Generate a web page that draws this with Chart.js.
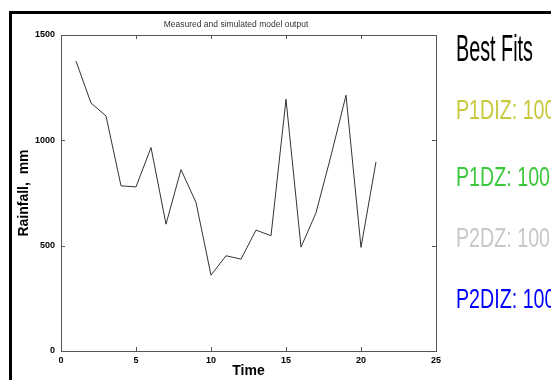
<!DOCTYPE html>
<html>
<head>
<meta charset="utf-8">
<script src="https://cdn.jsdelivr.net/npm/chart.js@4/dist/chart.umd.min.js"></script>
<style>
  html, body { margin: 0; padding: 0; background: #fff; }
  canvas { display: block; }
</style>
</head>
<body>
<canvas id="grafico" width="551" height="380"></canvas>
<script>
// dados
const tempo = [1, 2, 3, 4, 5, 6, 7, 8, 9, 10, 11, 12, 13, 14, 15, 16, 17, 18, 19, 20, 21];
const chuva = [1376, 1177, 1116, 784, 779, 966, 602, 861, 705, 360, 452, 436, 574, 547, 1195, 493, 656, 927, 1214, 492, 898];
const ticksX = [0, 5, 10, 15, 20, 25];
const ticksY = [0, 500, 1000, 1500];
const titulo = "Measured and simulated model output";
const melhores = ["Best Fits", "P1DIZ: 100", "P1DZ: 100", "P2DZ: 100", "P2DIZ: 100"];
const coresMelhores = ["#000000", "#c8c83c", "#3cc83c", "#c8c8c8", "#0000ff"];

const corEixo = "#555555";

// moldura, titulo, caixa e legenda desenhados a mao
const extras = {
  id: "extras",
  beforeDraw(chart) {
    const ctx = chart.ctx;
    ctx.save();
    ctx.fillStyle = "#fff";
    ctx.fillRect(0, 0, chart.width, chart.height);
    ctx.strokeStyle = "#000";
    ctx.lineWidth = 3;
    ctx.beginPath();
    ctx.moveTo(10.5, chart.height + 5);
    ctx.lineTo(10.5, 12.5);
    ctx.lineTo(chart.width + 5, 12.5);
    ctx.stroke();
    ctx.restore();
  },
  afterDraw(chart) {
    const ctx = chart.ctx;
    const a = chart.chartArea;
    const sx = chart.scales.x, sy = chart.scales.y;
    ctx.save();
    // caixa
    ctx.strokeStyle = corEixo;
    ctx.lineWidth = 1;
    ctx.strokeRect(Math.round(a.left) + 0.5, Math.round(a.top) + 0.5,
      Math.round(a.right - a.left), Math.round(a.bottom - a.top));
    // ticks para dentro
    ctx.beginPath();
    ticksX.forEach(v => {
      const px = Math.round(sx.getPixelForValue(v)) + 0.5;
      ctx.moveTo(px, a.bottom); ctx.lineTo(px, a.bottom - 4);
      ctx.moveTo(px, a.top); ctx.lineTo(px, a.top + 4);
    });
    ticksY.forEach(v => {
      const py = Math.round(sy.getPixelForValue(v)) + 0.5;
      ctx.moveTo(a.left, py); ctx.lineTo(a.left + 4, py);
      ctx.moveTo(a.right, py); ctx.lineTo(a.right - 4, py);
    });
    ctx.stroke();
    // titulo
    ctx.fillStyle = "#333";
    ctx.font = "8.5px 'Liberation Sans', Arial, sans-serif";
    ctx.textAlign = "center";
    ctx.textBaseline = "middle";
    ctx.fillText(titulo, 236, 25);
    // legenda "Best Fits"
    ctx.textAlign = "left";
    ctx.textBaseline = "alphabetic";
    const bases = [61, 119, 186, 247, 308];
    melhores.forEach((txt, i) => {
      const tam = i === 0 ? 36 : 28;
      ctx.font = tam + "px 'Liberation Sans', Arial, sans-serif";
      const larguraAlvo = i === 0 ? 77 : 94;
      const ref = i === 0 ? txt : "P1DZ: 100";
      const esc = larguraAlvo / ctx.measureText(ref).width;
      ctx.save();
      ctx.translate(456, bases[i]);
      ctx.scale(esc, 1);
      ctx.fillStyle = coresMelhores[i];
      ctx.fillText(txt, 0, 0);
      ctx.restore();
    });
    ctx.restore();
  }
};

new Chart(document.getElementById("grafico"), {
  type: "line",
  data: {
    datasets: [{
      data: tempo.map((t, i) => ({ x: t, y: chuva[i] })),
      borderColor: "#333333",
      borderWidth: 1,
      pointRadius: 0,
      tension: 0,
      fill: false
    }]
  },
  options: {
    responsive: false,
    animation: false,
    layout: { padding: { left: 0, right: 115, top: 35, bottom: 0 } },
    plugins: {
      legend: { display: false },
      tooltip: { enabled: false },
      title: { display: false }
    },
    scales: {
      x: {
        type: "linear",
        min: 0,
        max: 25,
        afterBuildTicks: s => { s.ticks = ticksX.map(v => ({ value: v })); },
        afterFit: s => { s.height = 29; },
        grid: { display: false, drawTicks: false },
        border: { display: false },
        ticks: {
          color: "#000",
          padding: 4,
          maxRotation: 0,
          callback: v => String(v),
          font: { family: "'Liberation Sans', Arial, sans-serif", size: 9, weight: "bold" }
        },
        title: {
          display: true,
          text: "Time",
          color: "#000",
          padding: { top: 0, bottom: 0 },
          font: { family: "'Liberation Sans', Arial, sans-serif", size: 14, weight: "bold" }
        }
      },
      y: {
        min: 0,
        max: 1500,
        afterBuildTicks: s => { s.ticks = ticksY.map(v => ({ value: v })); },
        afterFit: s => { s.width = 61; },
        grid: { display: false, drawTicks: false },
        border: { display: false },
        ticks: {
          color: "#000",
          padding: 6,
          callback: v => String(v),
          font: { family: "'Liberation Sans', Arial, sans-serif", size: 9, weight: "bold" }
        },
        title: {
          display: true,
          text: "Rainfall,  mm",
          color: "#000",
          padding: { top: 16, bottom: 0 },
          font: { family: "'Liberation Sans', Arial, sans-serif", size: 14, weight: "bold" }
        }
      }
    }
  },
  plugins: [extras]
});
</script>
</body>
</html>
